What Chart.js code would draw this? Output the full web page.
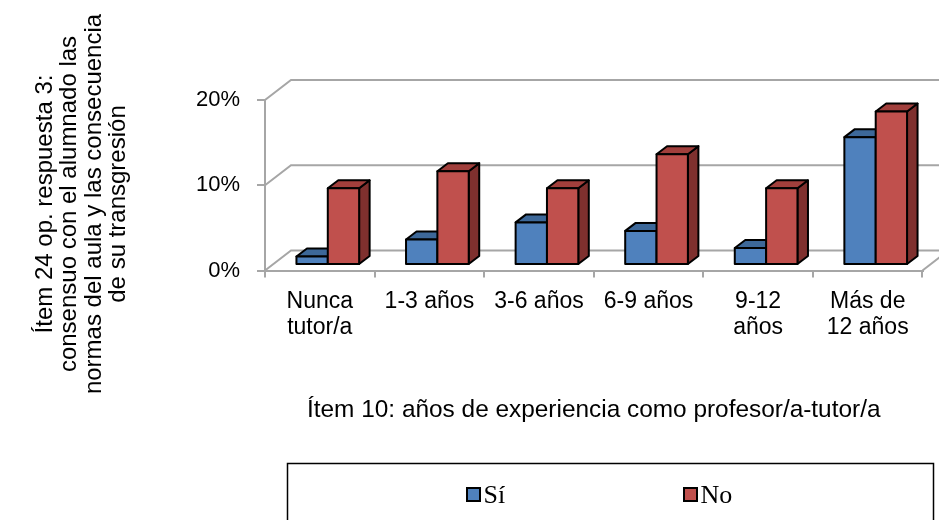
<!DOCTYPE html>
<html>
<head>
<meta charset="utf-8">
<script src="https://cdn.jsdelivr.net/npm/chart.js@4.4.1/dist/chart.umd.min.js"></script>
<style>
  html, body { margin: 0; padding: 0; background: #fff; }
  #chart { display: block; }
</style>
</head>
<body>
<canvas id="chart" width="939" height="520"></canvas>
<script>
const categories = [["Nunca", "tutor/a"], "1-3 años", "3-6 años", "6-9 años", ["9-12", "años"], ["Más de", "12 años"]];
const siValues = [1, 3, 5, 4, 2, 15];
const noValues = [9, 11, 9, 13, 9, 18];
const yTicks = [0, 10, 20];
const seriesNames = ["Sí", "No"];
const yTitleLines = ["Ítem 24 op. respuesta 3:", "consensuo con el alumnado las", "normas del aula y las consecuencia", "de su transgresión"];
const xTitle = "Ítem 10: años de experiencia como profesor/a-tutor/a";

const FRONT = ["#4F81BD", "#C0504D"];
const TOP = ["#3D6899", "#A13F3C"];
const SIDE = ["#325680", "#7F302E"];
const GRID = "#a6a6a6";
const SANS = "'Liberation Sans', Arial, sans-serif";

// oblique projection: back wall offset, where the bars sit in the depth, bar thickness
const WALL = { dx: 26, dy: -20 };
const BAR_SHIFT = { dx: 8, dy: -5.5 };
const BAR_DEPTH = { dx: 10.5, dy: -8 };

function poly(ctx, pts, fill) {
  ctx.beginPath();
  ctx.moveTo(pts[0][0], pts[0][1]);
  for (let i = 1; i < pts.length; i++) ctx.lineTo(pts[i][0], pts[i][1]);
  ctx.closePath();
  ctx.fillStyle = fill;
  ctx.fill();
  ctx.stroke();
}

// back wall, side wall and floor, then the bars as boxes
const box3d = {
  id: "box3d",
  beforeDatasetsDraw(chart) {
    const ctx = chart.ctx;
    const { left, right, bottom } = chart.chartArea;
    const y = chart.scales.y;
    ctx.save();
    ctx.strokeStyle = GRID;
    ctx.lineWidth = 2;
    y.ticks.forEach(t => {
      const py = y.getPixelForValue(t.value);
      ctx.beginPath();
      ctx.moveTo(left, py);
      ctx.lineTo(left + WALL.dx, py + WALL.dy);
      ctx.lineTo(chart.width, py + WALL.dy);
      ctx.stroke();
    });
    ctx.beginPath();
    ctx.moveTo(right, bottom);
    ctx.lineTo(right + WALL.dx, bottom + WALL.dy);
    ctx.stroke();

    ctx.strokeStyle = "#000";
    ctx.lineWidth = 2;
    ctx.lineJoin = "round";
    chart.data.datasets.forEach((ds, i) => {
      chart.getDatasetMeta(i).data.forEach(bar => {
        const x0 = bar.x - bar.width / 2 + BAR_SHIFT.dx;
        const x1 = bar.x + bar.width / 2 + BAR_SHIFT.dx;
        const yt = bar.y + BAR_SHIFT.dy;
        const yb = bar.base + BAR_SHIFT.dy;
        const dx = BAR_DEPTH.dx, dy = BAR_DEPTH.dy;
        poly(ctx, [[x1, yt], [x1 + dx, yt + dy], [x1 + dx, yb + dy], [x1, yb]], SIDE[i]);
        poly(ctx, [[x0, yt], [x1, yt], [x1 + dx, yt + dy], [x0 + dx, yt + dy]], TOP[i]);
        poly(ctx, [[x0, yt], [x1, yt], [x1, yb], [x0, yb]], FRONT[i]);
      });
    });
    ctx.restore();
    return false;
  }
};

// rotated multi-line title on the left
const sideTitle = {
  id: "sideTitle",
  afterDraw(chart) {
    const ctx = chart.ctx;
    ctx.save();
    ctx.translate(45, 204);
    ctx.rotate(-Math.PI / 2);
    ctx.font = "24px " + SANS;
    ctx.fillStyle = "#000";
    ctx.textAlign = "center";
    ctx.textBaseline = "middle";
    yTitleLines.forEach((line, i) => ctx.fillText(line, 0, i * 24.5));
    ctx.restore();
  }
};

// framed legend under the chart
const legendBox = {
  id: "legendBox",
  afterDraw(chart) {
    const ctx = chart.ctx;
    ctx.save();
    ctx.strokeStyle = "#000";
    ctx.lineWidth = 1.5;
    ctx.strokeRect(287.5, 463.5, 646, 80);
    ctx.font = "26px 'Liberation Serif', 'Times New Roman', serif";
    ctx.textBaseline = "alphabetic";
    const itemX = [467, 684];
    chart.data.datasets.forEach((ds, i) => {
      ctx.fillStyle = FRONT[i];
      ctx.lineWidth = 2;
      ctx.fillRect(itemX[i], 488, 13, 13);
      ctx.strokeRect(itemX[i], 488, 13, 13);
      ctx.fillStyle = "#000";
      ctx.fillText(ds.label, itemX[i] + 16.5, 503);
    });
    ctx.restore();
  }
};

new Chart(document.getElementById("chart"), {
  type: "bar",
  data: {
    labels: categories,
    datasets: [
      { label: seriesNames[0], data: siValues, backgroundColor: FRONT[0], categoryPercentage: 0.572, barPercentage: 1 },
      { label: seriesNames[1], data: noValues, backgroundColor: FRONT[1], categoryPercentage: 0.572, barPercentage: 1 }
    ]
  },
  options: {
    responsive: false,
    animation: false,
    layout: { padding: { left: 140, top: 100, right: 16.5, bottom: 89.5 } },
    plugins: {
      legend: { display: false },
      tooltip: { enabled: false }
    },
    scales: {
      x: {
        grid: { drawOnChartArea: false, tickLength: 7, color: GRID, lineWidth: 2 },
        border: { color: GRID, width: 2 },
        ticks: { color: "#000", padding: 10.5, maxRotation: 0, autoSkip: false, font: { family: SANS, size: 23, lineHeight: 1.15 } },
        title: { display: true, text: xTitle, color: "#000", font: { family: SANS, size: 24.4 }, padding: { top: 0, bottom: 6 } },
        afterFit: s => { s.height = 160; }
      },
      y: {
        min: 0,
        max: 20,
        afterBuildTicks: s => { s.ticks = yTicks.map(v => ({ value: v })); },
        grid: { drawOnChartArea: false, tickLength: 8, color: GRID, lineWidth: 2 },
        border: { color: GRID, width: 2 },
        ticks: { color: "#000", padding: 17, callback: v => v + "%", font: { family: SANS, size: 22 } },
        afterFit: s => { s.width = 125; }
      }
    }
  },
  plugins: [box3d, sideTitle, legendBox]
});
</script>
</body>
</html>
